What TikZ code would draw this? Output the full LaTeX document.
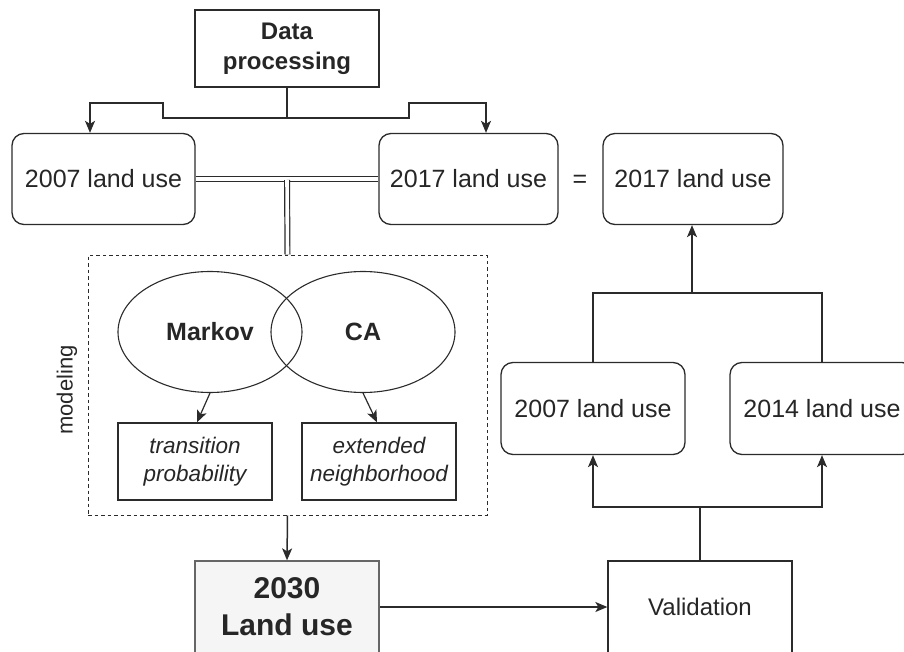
\documentclass[tikz,border=0pt]{standalone}
\usepackage{fontspec}
\setmainfont{Liberation Sans}
\usetikzlibrary{arrows.meta,shapes.geometric}
\definecolor{ln}{HTML}{2B2B2B}
\definecolor{tx}{HTML}{262626}
\definecolor{boxfill}{HTML}{F5F5F5}
\begin{document}
\begin{tikzpicture}[x=1pt,y=-1pt,
  every node/.style={text=tx,font=\fontsize{25}{30}\selectfont,align=center,inner sep=0pt},
  plainbox/.style={draw=ln,line width=1.3pt,rectangle},
  roundbox/.style={draw=ln,line width=1.3pt,rectangle,rounded corners=12pt,minimum width=183pt,minimum height=91pt},
  ell/.style={draw=ln,line width=1.1pt,ellipse,minimum width=184pt,minimum height=121pt},
  conn/.style={draw=ln,line width=1.5pt},
  arr/.style={conn,-{Stealth[length=12pt,width=10pt,inset=3pt]}},
  dbl/.style={draw=ln,line width=1.2pt,double=white,double distance=3.6pt}]
\useasboundingbox (0,0) rectangle (904,652);

% nodes
\node[plainbox,minimum width=184pt,minimum height=77pt,font=\bfseries\fontsize{24}{30}\selectfont] (dp) at (287,48.5) {Data\\processing};
\node[roundbox] (lu07) at (103.5,179) {2007 land use};
\node[roundbox,minimum width=179pt] (lu17) at (468.5,179) {2017 land use};
\node (eq) at (580,181) {=};
\node[roundbox,minimum width=180pt] (lu17b) at (693,179) {2017 land use};

\node[draw=ln,line width=1pt,dash pattern=on 3.5pt off 3pt,minimum width=399pt,minimum height=260pt] (mod) at (287.5,385) {};
\node[rotate=90,font=\fontsize{22}{26}\selectfont] (modlbl) at (67,390) {modeling};
\node[ell] (markov) at (210,332) {};
\node[ell] (ca) at (363,332) {};
\node[font=\bfseries\fontsize{25}{30}\selectfont] (markovt) at (210,332) {Markov};
\node[font=\bfseries\fontsize{25}{30}\selectfont] (cat) at (363,332) {CA};
\node[plainbox,minimum width=154pt,minimum height=77pt,font=\itshape\fontsize{22.5}{28}\selectfont] (tp) at (195,461.5) {transition\\probability};
\node[plainbox,minimum width=154pt,minimum height=77pt,font=\itshape\fontsize{22.5}{28}\selectfont] (en) at (379,461.5) {extended\\neighborhood};

\node[plainbox,draw=black!60,fill=boxfill,minimum width=184pt,minimum height=92pt,font=\bfseries\fontsize{30}{37}\selectfont] (lu30) at (287,607) {2030\\Land use};
\node[plainbox,minimum width=184pt,minimum height=92pt,font=\fontsize{24}{30}\selectfont] (val) at (700,607) {Validation};

\node[roundbox,minimum width=184pt,minimum height=92pt] (vlu07) at (593,408.5) {2007 land use};
\node[roundbox,minimum width=184pt,minimum height=92pt] (vlu14) at (822,408.5) {2014 land use};

% coordinates
\coordinate (j1) at (287,118);
\coordinate (jl) at (163,118);
\coordinate (jl2) at (163,103);
\coordinate (al) at (90,103);
\coordinate (jr) at (409,118);
\coordinate (jr2) at (409,103);
\coordinate (ar) at (486,103);
\coordinate (jm) at (287,180);
\coordinate (tv) at (692,293);
\coordinate (bv) at (700,507);

% connectors
\draw[conn] (dp.south) -- (j1);
\draw[arr] (j1) -- (jl) -- (jl2) -- (al) -- (al |- lu07.north);
\draw[arr] (j1) -- (jr) -- (jr2) -- (ar) -- (ar |- lu17.north);

\draw[dbl] (lu07.east) -- (lu17.west);
\draw[dbl] (jm) -- (mod.north);

\draw[arr,line width=1.2pt] (markov.south) -- ([xshift=2pt]tp.north);
\draw[arr,line width=1.2pt] (ca.south) -- ([xshift=-2pt]en.north);

\draw[arr] (mod.south) -- (lu30.north);
\draw[arr] (lu30.east |- val.west) -- (val.west);

\draw[conn] (val.north) -- (bv);
\draw[arr] (bv) -| (vlu07.south);
\draw[arr] (bv) -| (vlu14.south);

\draw[conn] (vlu07.north) |- (tv) -| (vlu14.north);
\draw[arr] (tv) -- (tv |- lu17b.south);
\end{tikzpicture}
\end{document}
